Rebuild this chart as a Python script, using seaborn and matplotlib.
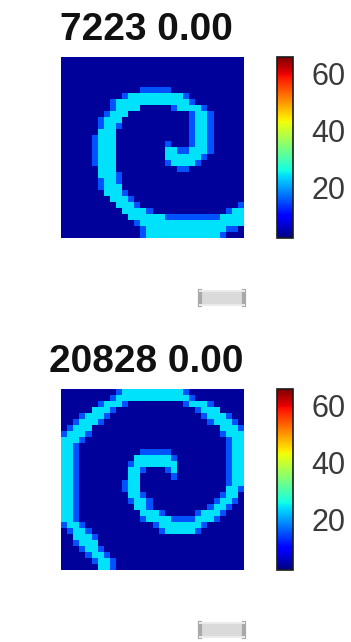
import matplotlib
matplotlib.use("Agg")
import numpy as np
import matplotlib.pyplot as plt
import seaborn as sns

# frame ids and scores shown in the panel titles
frame_ids = [7223, 20828]
scores = [0.00, 0.00]

# cell levels: '.' background, '+' spiral edge, '#' spiral
levels = {".": 3.5, "+": 15.0, "#": 24.0}

frame_a = [
    "..............................",
    "..............................",
    "..............................",
    "..............................",
    "..............................",
    ".............+++++............",
    "..........+#########+.........",
    "........+############+........",
    "........+####.....+####+......",
    ".......+###..........+##+.....",
    "......+###...........+##+.....",
    "......+##+...........+##+.....",
    "......###............+##+.....",
    ".....+###............+##+.....",
    ".....+###........+...+##+.....",
    ".....+###........##++###+.....",
    ".....+###........######+......",
    ".....+###........+####+.......",
    "......###..........++.........",
    "......###+....................",
    "......+##+....................",
    "......+###....................",
    ".......###+...................",
    "........###+..................",
    ".........###+................+",
    "..........####+............+##",
    "...........######+++++++++####",
    "............+#################",
    ".............+#############++.",
    ".............+############+...",
]

frame_b = [
    ".........+##########+.........",
    "........+############+........",
    "......+###+.........+###+.....",
    ".....###+.............+###....",
    "...+###+...............+###+..",
    "..+###+.................+###+.",
    ".+###.....................###+",
    "+###+.....................+###",
    "###+.......................+##",
    "##+........................+##",
    "##+..........+++++.........+##",
    "##+.........######+........+##",
    "##+........+#######........+##",
    "##+........##+...+#........+##",
    "##+........##.....+........+##",
    "##+.......+##..............+##",
    "##+.......+##..............##+",
    "##+........##+............+##.",
    "##+........+##+..........+##+.",
    "##+.........##+.........+##+..",
    "##+..........###+.....+###+...",
    "##+..........+####++++###+....",
    "+##+...........+#######+......",
    ".+##+...........+#####+.......",
    "..###+........................",
    "..+###........................",
    "...+##+.......................",
    "....+##+......................",
    ".....+##+.....................",
    "......##+.....................",
]

cbar_ticks = [20, 40, 60]
vmin, vmax = 2, 66


def to_grid(rows):
    return np.array([[levels[ch] for ch in row] for row in rows])


sns.set_style("white")
plt.rcParams["font.family"] = ["Liberation Sans", "DejaVu Sans"]

W, H = 351, 642
fig = plt.figure(figsize=(W / 100, H / 100), dpi=100)
fig.patch.set_facecolor("white")

panel_tops = [57, 389]
title_base = [40, 372]
slider_tops = [291, 623]

for i, rows in enumerate([frame_a, frame_b]):
    top = panel_tops[i]
    ax = fig.add_axes([61 / W, 1 - (top + 181) / H, 183 / W, 181 / H])
    cax = fig.add_axes([277 / W, 1 - (top + 181) / H, 16 / W, 181 / H])
    sns.heatmap(to_grid(rows), ax=ax, cbar_ax=cax, cmap="jet", vmin=vmin, vmax=vmax,
                xticklabels=False, yticklabels=False,
                cbar_kws={"ticks": cbar_ticks})
    cb = ax.collections[0].colorbar
    cb.outline.set_visible(True)
    cb.outline.set_edgecolor("#1a1a1a")
    cb.outline.set_linewidth(1.2)
    cax.tick_params(length=0, labelsize=22, pad=13, labelcolor="#3a3a3a")

    fig.text(146 / W, 1 - title_base[i] / H, f"{frame_ids[i]} {scores[i]:.2f}",
             ha="center", va="baseline", fontsize=28, fontweight="bold", color="#111111")

    # small grey slider handle under each panel
    sax = fig.add_axes([200 / W, 1 - (slider_tops[i] + 14) / H, 44 / W, 14 / H])
    sax.set_facecolor("#dadada")
    sax.set_xticks([])
    sax.set_yticks([])
    for side in ["top", "bottom"]:
        sax.spines[side].set_color("#ebebeb")
        sax.spines[side].set_linewidth(1.5)
    for side in ["left", "right"]:
        sax.spines[side].set_color("#a8a8a8")
        sax.spines[side].set_linewidth(3)

fig.savefig("out.png", dpi=100, facecolor="white")
plt.close(fig)
